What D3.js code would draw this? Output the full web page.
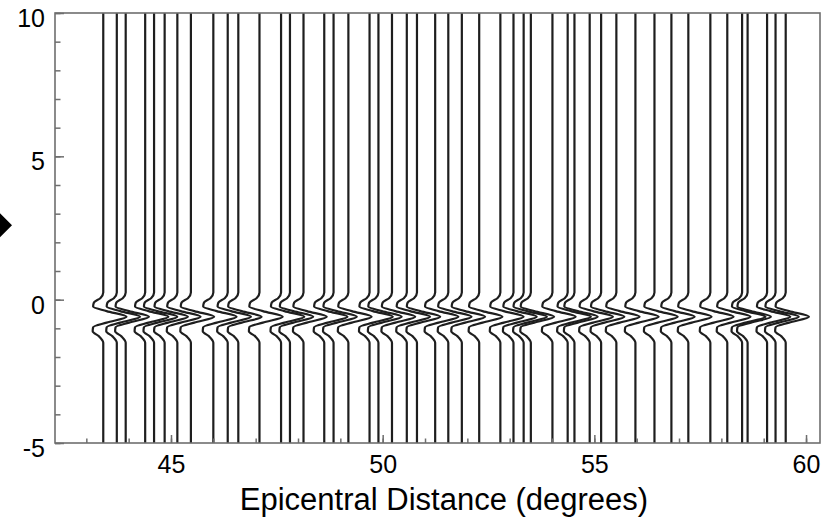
<!DOCTYPE html>
<html>
<head>
<meta charset="utf-8">
<script src="https://cdn.jsdelivr.net/npm/d3@7"></script>
<style>
  html, body { margin: 0; padding: 0; background: #fff; }
  svg { display: block; font-family: "Liberation Sans", Arial, sans-serif; }
</style>
</head>
<body>
<svg id="chart" width="837" height="522"></svg>
<script>
// Station epicentral distances (degrees), one seismogram per station
const distances = [
  43.40, 43.72, 43.93, 44.39, 44.60, 44.85, 45.15, 45.47, 46.00, 46.34,
  46.59, 47.09, 47.60, 47.81, 48.13, 48.62, 48.84, 49.19, 49.69, 49.90,
  50.22, 50.57, 50.81, 51.24, 51.55, 51.87, 52.28, 52.78, 53.09, 53.33,
  53.50, 54.01, 54.37, 54.53, 54.89, 55.16, 55.52, 55.97, 56.42, 56.82,
  57.22, 57.74, 58.14, 58.49, 58.62, 59.08, 59.28, 59.52
];

// Arrival pulse: reduced time samples and trace deflection (degrees)
const waveTime  = [0.25, 0.05, -0.10, -0.24, -0.40, -0.60, -0.80, -0.96, -1.10, -1.28, -1.50];
const waveShape = [0.00, -0.07, -0.22, -0.24, 0.08, 0.55, 0.08, -0.24, -0.25, -0.10, 0.00];

// Axis ticks
const yMajorTicks = [-5, 0, 5, 10];
const yMinorTicks = d3.range(-5, 11, 1);
const xMajorTicks = [45, 50, 55, 60];
const xMinorTicks = d3.range(43, 61, 1);

const timeMin = -5, timeMax = 10;
const xLabel = "Epicentral Distance (degrees)";

const svg = d3.select("#chart");
const plotLeft = 55, plotRight = 820, plotTop = 13, plotBottom = 443;

const x = d3.scaleLinear().domain([42.26, 60.33]).range([plotLeft, plotRight]);
const y = d3.scaleLinear().domain([timeMin, timeMax]).range([plotBottom, plotTop]);

// Seismogram traces
const pulse = waveTime.map((t, i) => [t, waveShape[i]]);
const traceLine = d3.line()
  .x(p => x(p.d + p.off))
  .y(p => y(p.t))
  .curve(d3.curveMonotoneY);

const plot = svg.append("g");
plot.selectAll("path.trace")
  .data(distances)
  .join("path")
  .attr("class", "trace")
  .attr("fill", "none")
  .attr("stroke", "#1e1e1e")
  .attr("stroke-width", 2.2)
  .attr("d", d => {
    const pts = [{ d, t: timeMax, off: 0 }]
      .concat(pulse.map(([t, off]) => ({ d, t, off })))
      .concat([{ d, t: timeMin, off: 0 }]);
    return traceLine(pts);
  });

// Left axis: minor and major ticks pointing inward
const tickFont = 25;
const plain = d => String(d);
svg.append("g")
  .attr("transform", `translate(${plotLeft},0)`)
  .call(d3.axisLeft(y).tickValues(yMinorTicks).tickSize(-5.5).tickFormat(""))
  .call(g => g.select(".domain").remove())
  .call(g => g.selectAll("line").attr("stroke", "#6e6e6e").attr("stroke-width", 1.5));

svg.append("g")
  .attr("transform", `translate(${plotLeft},0)`)
  .call(d3.axisLeft(y).tickValues(yMajorTicks).tickSize(-9).tickPadding(10).tickFormat(plain))
  .call(g => g.select(".domain").remove())
  .call(g => g.selectAll("line").attr("stroke", "#6e6e6e").attr("stroke-width", 1.5))
  .call(g => g.selectAll("text")
    .attr("font-size", tickFont)
    .attr("font-family", "'Liberation Sans', Arial, sans-serif")
    .attr("fill", "#000")
    .attr("dy", "0.54em"));

// Bottom axis
svg.append("g")
  .attr("transform", `translate(0,${plotBottom})`)
  .call(d3.axisBottom(x).tickValues(xMinorTicks).tickSize(-4.5).tickFormat(""))
  .call(g => g.select(".domain").remove())
  .call(g => g.selectAll("line").attr("stroke", "#6e6e6e").attr("stroke-width", 1.5));

svg.append("g")
  .attr("transform", `translate(0,${plotBottom})`)
  .call(d3.axisBottom(x).tickValues(xMajorTicks).tickSize(-8).tickPadding(12).tickFormat(plain))
  .call(g => g.select(".domain").remove())
  .call(g => g.selectAll("line").attr("stroke", "#6e6e6e").attr("stroke-width", 1.5))
  .call(g => g.selectAll("text")
    .attr("font-size", tickFont)
    .attr("font-family", "'Liberation Sans', Arial, sans-serif")
    .attr("fill", "#000"));

// Plot frame
svg.append("rect")
  .attr("x", plotLeft).attr("y", plotTop)
  .attr("width", plotRight - plotLeft).attr("height", plotBottom - plotTop)
  .attr("fill", "none")
  .attr("stroke", "#6e6e6e")
  .attr("stroke-width", 1.6);

// Axis title
svg.append("text")
  .attr("x", 444)
  .attr("y", 510)
  .attr("text-anchor", "middle")
  .attr("font-size", 31)
  .attr("fill", "#000")
  .text(xLabel);

// Marker pointing at the plot from the left margin
const my = y(2.6);
svg.append("path")
  .attr("d", `M-12,${my} L0,${my - 12} L12,${my} L0,${my + 12} Z`)
  .attr("fill", "#000");
</script>
</body>
</html>
